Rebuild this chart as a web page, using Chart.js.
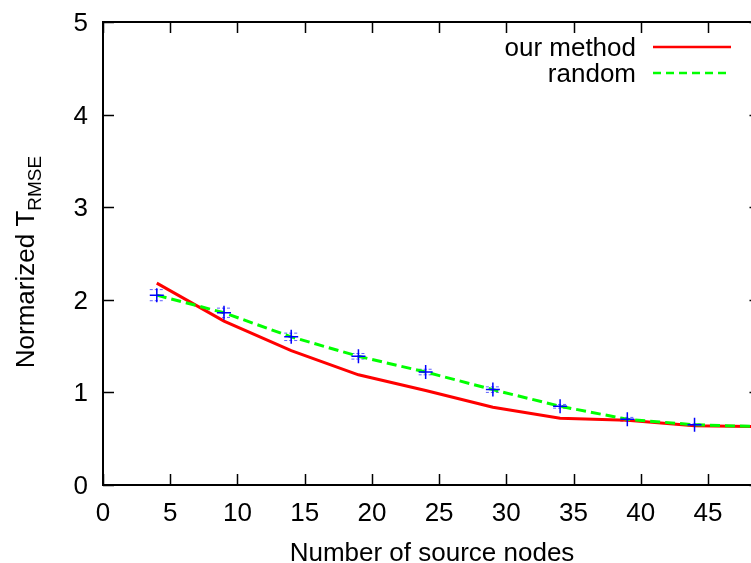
<!DOCTYPE html>
<html>
<head>
<meta charset="utf-8">
<script src="https://cdn.jsdelivr.net/npm/chart.js@4.4.0/dist/chart.umd.min.js"></script>
<style>
  html, body { margin: 0; padding: 0; background: #fff; }
  #wrap { width: 751px; height: 563px; }
</style>
</head>
<body>
<div id="wrap"><canvas id="chart"></canvas></div>
<script>
const xValues = [4, 9, 14, 19, 24, 29, 34, 39, 44, 49];
const ourMethod = [2.18, 1.77, 1.45, 1.19, 1.02, 0.84, 0.72, 0.70, 0.64, 0.63];
const randomSel = [2.05, 1.86, 1.60, 1.39, 1.22, 1.03, 0.85, 0.71, 0.65, 0.63];
const randomErr = [0.06, 0.05, 0.04, 0.03, 0.03, 0.03, 0.02, 0.02, 0.01, 0.01];
const seriesLabels = ['our method', 'random'];
const xTitle = 'Number of source nodes';
const yTitle = 'Normarized T';
const yTitleSub = 'RMSE';

const FONT = '"Liberation Sans", Arial, sans-serif';
const FSIZE = 26;

const toPoints = (ys) => xValues.map((x, i) => ({ x: x, y: ys[i] }));

// border, inward ticks, tick labels, error bars, legend, axis titles
const gnuplotLook = {
  id: 'gnuplotLook',
  beforeDatasetsDraw(chart) {
    const { ctx, chartArea: a, scales } = chart;
    const xs = scales.x, ys = scales.y;
    ctx.save();
    ctx.beginPath();
    ctx.rect(a.left, a.top, a.right - a.left, a.bottom - a.top);
    ctx.clip();
    // error bars of the random series
    ctx.strokeStyle = 'rgba(40,40,255,0.75)';
    ctx.lineWidth = 1;
    ctx.setLineDash([3, 2]);
    xValues.forEach((x, i) => {
      const px = xs.getPixelForValue(x);
      const hi = ys.getPixelForValue(randomSel[i] + randomErr[i]);
      const lo = ys.getPixelForValue(randomSel[i] - randomErr[i]);
      ctx.beginPath();
      ctx.moveTo(px, hi); ctx.lineTo(px, lo);
      ctx.moveTo(px - 7, hi); ctx.lineTo(px + 7, hi);
      ctx.moveTo(px - 7, lo); ctx.lineTo(px + 7, lo);
      ctx.stroke();
    });
    ctx.restore();
  },
  afterDraw(chart) {
    const { ctx, chartArea: a, scales } = chart;
    const xs = scales.x, ys = scales.y;
    ctx.save();
    ctx.strokeStyle = '#000';
    ctx.lineWidth = 2;
    ctx.strokeRect(a.left, a.top, a.right - a.left + 2, a.bottom - a.top);
    ctx.lineWidth = 1.5;
    ctx.beginPath();
    xs.ticks.forEach(t => {
      const px = Math.round(xs.getPixelForValue(t.value)) + 0.5;
      ctx.moveTo(px, a.bottom); ctx.lineTo(px, a.bottom - 11);
      ctx.moveTo(px, a.top); ctx.lineTo(px, a.top + 11);
    });
    ys.ticks.forEach(t => {
      const py = Math.round(ys.getPixelForValue(t.value)) + 0.5;
      ctx.moveTo(a.left, py); ctx.lineTo(a.left + 11, py);
      // right axis sits just past the canvas edge, only a stub shows
      ctx.moveTo(a.right, py); ctx.lineTo(a.right - 1.5, py);
    });
    ctx.stroke();

    // tick labels
    ctx.font = FSIZE + 'px ' + FONT;
    ctx.fillStyle = '#000';
    ctx.textBaseline = 'alphabetic';
    ctx.textAlign = 'center';
    xs.ticks.forEach(t => {
      ctx.fillText(String(t.value), xs.getPixelForValue(t.value), a.bottom + 36);
    });
    ctx.textAlign = 'right';
    ys.ticks.forEach(t => {
      ctx.fillText(String(t.value), a.left - 15, ys.getPixelForValue(t.value) + 9);
    });

    // legend
    const rows = [
      { label: seriesLabels[0], color: '#ff0000', dash: [], y: 47 },
      { label: seriesLabels[1], color: '#00ff00', dash: [8, 5], y: 73 }
    ];
    rows.forEach(r => {
      ctx.fillText(r.label, 636, r.y + 9);
      ctx.strokeStyle = r.color;
      ctx.lineWidth = 2.5;
      ctx.setLineDash(r.dash);
      ctx.beginPath();
      ctx.moveTo(653, r.y); ctx.lineTo(731, r.y);
      ctx.stroke();
    });
    ctx.setLineDash([]);

    // x title
    ctx.textAlign = 'center';
    ctx.fillText(xTitle, 432, 561);

    // y title with subscript
    ctx.translate(34, 262);
    ctx.rotate(-Math.PI / 2);
    ctx.textAlign = 'left';
    ctx.font = FSIZE + 'px ' + FONT;
    const w1 = ctx.measureText(yTitle).width;
    ctx.font = '19px ' + FONT;
    const w2 = ctx.measureText(yTitleSub).width;
    const start = -(w1 + w2) / 2;
    ctx.font = FSIZE + 'px ' + FONT;
    ctx.fillText(yTitle, start, 0);
    ctx.font = '19px ' + FONT;
    ctx.fillText(yTitleSub, start + w1, 7);
    ctx.restore();
  }
};

const ctx = document.getElementById('chart').getContext('2d');
new Chart(ctx, {
  type: 'line',
  data: {
    datasets: [
      {
        label: seriesLabels[0],
        data: toPoints(ourMethod),
        borderColor: '#ff0000',
        borderWidth: 3,
        pointRadius: 0,
        tension: 0,
        order: 2
      },
      {
        label: seriesLabels[1],
        data: toPoints(randomSel),
        borderColor: '#00ff00',
        borderWidth: 3,
        borderDash: [10, 5],
        pointStyle: 'cross',
        pointRadius: 7,
        pointBorderColor: '#0000ff',
        pointBorderWidth: 1.5,
        tension: 0,
        order: 1
      }
    ]
  },
  plugins: [gnuplotLook],
  options: {
    responsive: true,
    maintainAspectRatio: false,
    animation: false,
    layout: { autoPadding: false, padding: { top: 22, right: 0, left: 0, bottom: 0 } },
    plugins: {
      legend: { display: false },
      tooltip: { enabled: false }
    },
    scales: {
      x: {
        type: 'linear',
        min: 0,
        max: 48.2,
        afterFit: (scale) => {
          scale.height = 78;
          scale.paddingLeft = 0;
          scale.paddingRight = 0;
        },
        grid: { display: false, drawTicks: false },
        border: { display: false },
        ticks: { display: false, stepSize: 5, includeBounds: false }
      },
      y: {
        min: 0,
        max: 5,
        afterFit: (scale) => {
          scale.width = 103;
          scale.paddingTop = 0;
          scale.paddingBottom = 0;
        },
        grid: { display: false, drawTicks: false },
        border: { display: false },
        ticks: { display: false, stepSize: 1 }
      }
    }
  }
});
</script>
</body>
</html>
